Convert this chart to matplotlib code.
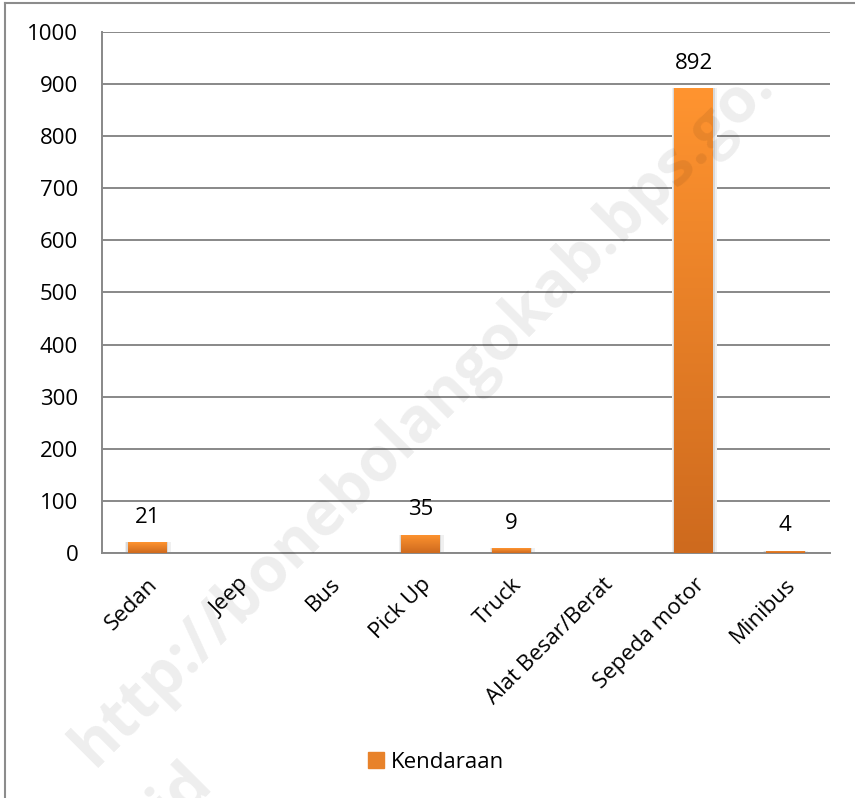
import numpy as np
import matplotlib
matplotlib.use("Agg")
import matplotlib.pyplot as plt
import matplotlib.transforms as mtransforms
from matplotlib.colors import LinearSegmentedColormap
from matplotlib.lines import Line2D

plt.rcParams['font.family'] = ['Open Sans', 'DejaVu Sans']

categories = ["Sedan", "Jeep", "Bus", "Pick Up", "Truck",
              "Alat Besar/Berat", "Sepeda motor", "Minibus"]
values = [21, 0, 0, 35, 9, 0, 892, 4]
labels = ["21", "", "", "35", "9", "", "892", "4"]
yticks = [0, 100, 200, 300, 400, 500, 600, 700, 800, 900, 1000]
series_name = "Kendaraan"

grid_col = "#888888"
fs = 16

fig = plt.figure(figsize=(8.55, 7.98), dpi=100)
ax = fig.add_axes([0.119, 0.307, 0.852, 0.653])

x = np.arange(len(categories))
bw = 0.42
cmap = LinearSegmentedColormap.from_list("org", ["#CE6A1E", "#FF9430"])
grad = np.linspace(0, 1, 256).reshape(-1, 1)

# soft shadow behind the bars
for xi, v in zip(x, values):
    if v > 0:
        ax.bar(xi + 0.01, v + 2, bw + 0.08, bottom=-2, color="#f0f0f0", zorder=2)
        ax.bar(xi, v + 1, bw + 0.04, bottom=-1, color="#d9d9d9", zorder=2)

bars = ax.bar(x, values, bw, color="#E8822A", zorder=3)
for b in bars:
    if b.get_height() <= 0:
        b.set_visible(False)
        continue
    x0 = b.get_x()
    im = ax.imshow(grad, cmap=cmap, origin="lower", aspect="auto",
                   extent=[x0, x0 + b.get_width(), 0, b.get_height()], zorder=3)
    im.set_clip_path(b)

for xi, v, t in zip(x, values, labels):
    if t:
        ax.annotate(t, (xi, v), xytext=(0, 18), textcoords="offset points",
                    ha="center", va="center", fontsize=fs, color="black", zorder=5)

ax.set_xlim(-0.5, len(categories) - 0.5)
ax.set_ylim(0, 1000)
ax.set_yticks(yticks)
ax.set_yticklabels([str(t) for t in yticks], fontsize=fs)
ax.set_xticks(x)
ax.set_xticklabels(categories, fontsize=fs, rotation=45, ha="right", va="top",
                   rotation_mode="anchor")
shift = mtransforms.ScaledTranslation(6 / 100, 0, fig.dpi_scale_trans)
for lab in ax.get_xticklabels():
    lab.set_transform(lab.get_transform() + shift)
ax.tick_params(axis="x", length=0, pad=15)
ax.tick_params(axis="y", length=0, pad=17)

ax.yaxis.grid(True, color=grid_col, lw=1.4, zorder=0)
ax.set_axisbelow(True)
for s in ["top", "right"]:
    ax.spines[s].set_visible(False)
ax.spines["left"].set_color(grid_col)
ax.spines["left"].set_linewidth(1.4)
ax.spines["bottom"].set_color(grid_col)
ax.spines["bottom"].set_linewidth(1.4)

leg = fig.legend([plt.Rectangle((0, 0), 1, 1, color="#E8822A")], [series_name],
                 loc="center", bbox_to_anchor=(436 / 855, 1 - 762 / 798),
                 frameon=False, fontsize=fs, handlelength=0.75, handleheight=0.75,
                 handletextpad=0.3)

# watermark, two lines drawn separately
wm = dict(rotation=45, rotation_mode="anchor", ha="left", va="baseline",
          fontsize=45, fontweight="bold", color="black", alpha=0.07, zorder=10)
fig.text(94 / 855, 1 - 768 / 798, "http://bonebolangokab.bps.go.", **wm)
fig.text(172 / 855, 1 - 826 / 798, "id", **wm)

# outer frame (left and top edges visible)
fig.add_artist(Line2D([5 / 855, 5 / 855], [0, 1 - 3 / 798], color="#8c8c8c", lw=1.5))
fig.add_artist(Line2D([5 / 855, 1], [1 - 3 / 798, 1 - 3 / 798], color="#8c8c8c", lw=1.5))

fig.savefig("out.png", dpi=100)
